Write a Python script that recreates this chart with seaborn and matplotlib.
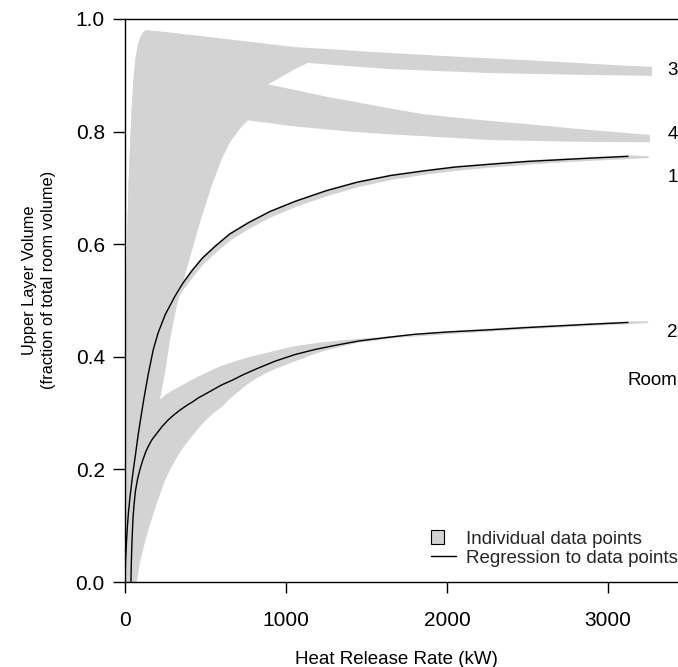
import matplotlib
matplotlib.use("Agg")
import matplotlib.pyplot as plt
import seaborn as sns
import pandas as pd
from matplotlib.patches import Patch, Rectangle
from matplotlib.lines import Line2D
from matplotlib.legend_handler import HandlerPatch

# ---------------- data ----------------
# Regression lines
reg1_x = [0, 3, 8, 14, 21, 30, 41, 52, 65, 80, 100, 120, 145, 175, 205, 250, 311, 360, 416, 480,
          559, 650, 766, 900, 1056, 1250, 1441, 1650, 1851, 2050, 2267, 2500, 2700, 2900, 3124]
reg1_y = [0, 0.035, 0.065, 0.095, 0.122, 0.148, 0.175, 0.2, 0.226, 0.258, 0.295, 0.33, 0.37, 0.412, 0.442,
          0.475, 0.508, 0.531, 0.553, 0.575, 0.596, 0.618, 0.638, 0.658, 0.676, 0.695, 0.71, 0.722, 0.73,
          0.737, 0.742, 0.747, 0.75, 0.753, 0.756]
reg2_x = [37, 39, 42, 46, 50, 57, 65, 78, 93, 110, 130, 150, 168, 200, 230, 265, 300, 340, 380, 420,
          455, 500, 550, 600, 663, 740, 820, 930, 1056, 1180, 1300, 1450, 1646, 1800, 2000, 2267, 2500,
          2700, 2900, 3124]
reg2_y = [0, 0.03, 0.06, 0.09, 0.115, 0.14, 0.162, 0.183, 0.2, 0.216, 0.232, 0.244, 0.253, 0.265, 0.276,
          0.287, 0.296, 0.305, 0.313, 0.32, 0.327, 0.334, 0.342, 0.35, 0.358, 0.369, 0.379, 0.392, 0.404,
          0.413, 0.42, 0.428, 0.435, 0.44, 0.444, 0.448, 0.452, 0.455, 0.458, 0.461]

# Data envelopes (individual data points) per room
room1_x = [0, 21, 52, 100, 145, 205, 250, 311, 360, 416, 480, 559, 650, 766, 900, 1056, 1250, 1441,
           1650, 1851, 2050, 2267, 2500, 2700, 2900, 3124, 3250]
room1_lo = [0, 0.11, 0.19, 0.28, 0.355, 0.428, 0.462, 0.496, 0.52, 0.541, 0.564, 0.585, 0.607, 0.628,
            0.648, 0.667, 0.686, 0.702, 0.715, 0.724, 0.731, 0.737, 0.742, 0.746, 0.749, 0.752, 0.754]
room1_hi = [0, 0.13, 0.21, 0.305, 0.38, 0.45, 0.482, 0.514, 0.536, 0.558, 0.58, 0.601, 0.622, 0.642,
            0.661, 0.679, 0.698, 0.713, 0.725, 0.733, 0.74, 0.745, 0.75, 0.753, 0.756, 0.759, 0.757]

room2_lo_x = [0, 73, 90, 110, 130, 150, 175, 200, 248, 290, 330, 370, 414, 460, 500, 550, 602, 650, 700,
              750, 807, 870, 930, 1000, 1056, 1140, 1230, 1340, 1450, 1700, 2000, 2500, 3124, 3250]
room2_lo = [0, 0, 0.03, 0.055, 0.077, 0.097, 0.12, 0.142, 0.18, 0.205, 0.225, 0.242, 0.258, 0.274, 0.287,
            0.3, 0.311, 0.325, 0.337, 0.349, 0.36, 0.37, 0.378, 0.386, 0.392, 0.401, 0.41, 0.418, 0.425,
            0.434, 0.44, 0.449, 0.458, 0.46]
room2_hi_x = [0, 50, 100, 160, 217, 250, 280, 352, 400, 455, 500, 550, 600, 663, 750, 850, 950, 1056,
              1230, 1450, 1700, 2000, 2500, 3124, 3250]
room2_hi = [0.02, 0.15, 0.25, 0.3, 0.324, 0.332, 0.338, 0.349, 0.357, 0.365, 0.371, 0.378, 0.384, 0.39,
            0.398, 0.405, 0.412, 0.419, 0.426, 0.432, 0.438, 0.446, 0.454, 0.463, 0.463]

room3_hi_x = [0, 5, 10, 17, 24, 31, 41, 52, 65, 81, 95, 110, 125, 141, 250, 400, 550, 700, 880, 1056,
              1300, 1500, 1750, 2000, 2267, 2550, 2800, 3050, 3273]
room3_hi = [0, 0.4, 0.55, 0.653, 0.72, 0.772, 0.838, 0.89, 0.93, 0.955, 0.967, 0.975, 0.979, 0.98,
            0.977, 0.972, 0.967, 0.962, 0.956, 0.95, 0.946, 0.942, 0.938, 0.934, 0.93, 0.926, 0.922,
            0.918, 0.915]
room3_lo_x = [0, 400, 888, 940, 1000, 1056, 1100, 1137, 1400, 1646, 2000, 2267, 2800, 3273]
room3_lo = [0, 0.8, 0.884, 0.892, 0.902, 0.911, 0.917, 0.922, 0.916, 0.911, 0.907, 0.904, 0.901, 0.899]

room4_hi_x = [0, 5, 10, 17, 24, 31, 41, 52, 65, 81, 95, 110, 125, 141, 500, 888, 1056, 1250, 1441,
              1650, 1851, 2050, 2267, 2550, 2800, 3050, 3261]
room4_hi = [0, 0.4, 0.55, 0.653, 0.72, 0.772, 0.838, 0.89, 0.93, 0.955, 0.967, 0.975, 0.979, 0.98,
            0.93, 0.884, 0.874, 0.862, 0.852, 0.841, 0.831, 0.825, 0.819, 0.812, 0.805, 0.799, 0.794]
room4_lo_x = [0, 50, 100, 160, 217, 248, 280, 321, 373, 435, 478, 540, 602, 650, 700, 735, 764, 900,
              1025, 1250, 1441, 1650, 1851, 2267, 2800, 3261]
room4_lo = [0, 0.07, 0.15, 0.24, 0.324, 0.37, 0.43, 0.49, 0.545, 0.608, 0.65, 0.705, 0.752, 0.78,
            0.80, 0.812, 0.82, 0.815, 0.81, 0.804, 0.799, 0.795, 0.792, 0.785, 0.782, 0.781]

room_labels = ["3", "4", "1", "2", "Room"]
room_label_y = [0.908, 0.795, 0.719, 0.443, 0.358]

x_ticks = [0, 1000, 2000, 3000]
y_ticks = [0.0, 0.2, 0.4, 0.6, 0.8, 1.0]

# ---------------- styling ----------------
sns.set_theme(style="ticks")
plt.rcParams["font.family"] = ["Liberation Sans", "DejaVu Sans"]
GRAY = "#d3d3d3"

fig = plt.figure(figsize=(6.78, 6.67), dpi=100)
ax = fig.add_axes([125 / 678, 85 / 667, 1 - 125 / 678, 563 / 667])


def band(xl, yl, xh, yh):
    # polygon: lower edge left->right, upper edge right->left
    px = list(xl) + list(xh)[::-1]
    py = list(yl) + list(yh)[::-1]
    ax.fill(px, py, color=GRAY, lw=0, zorder=1)


band(room3_lo_x, room3_lo, room3_hi_x, room3_hi)
band(room4_lo_x, room4_lo, room4_hi_x, room4_hi)
band(room2_lo_x, room2_lo, room2_hi_x, room2_hi)
ax.fill_between(room1_x, room1_lo, room1_hi, color=GRAY, lw=0, zorder=1)

# regression lines
df1 = pd.DataFrame({"x": reg1_x, "y": reg1_y})
df2 = pd.DataFrame({"x": reg2_x, "y": reg2_y})
sns.lineplot(data=df1, x="x", y="y", ax=ax, color="black", lw=1.0, estimator=None, sort=False, zorder=3)
sns.lineplot(data=df2, x="x", y="y", ax=ax, color="black", lw=1.0, estimator=None, sort=False, zorder=3)

ax.set_xlim(0, 553 / 0.161)
ax.set_ylim(0, 1.0)
ax.set_xticks(x_ticks)
ax.set_xticklabels([str(v) for v in x_ticks])
ax.set_yticks(y_ticks)
ax.set_yticklabels([f"{v:.1f}" for v in y_ticks])

for s in ["left", "top", "bottom"]:
    ax.spines[s].set_visible(True)
    ax.spines[s].set_linewidth(1.0)
    ax.spines[s].set_color("black")
ax.spines["right"].set_visible(False)
ax.tick_params(axis="both", direction="out", length=8.5, width=1.0, colors="black",
               labelsize=15, pad=6)
ax.tick_params(axis="x", length=8, pad=13)

ax.set_xlabel("Heat Release Rate (kW)", fontsize=13.5, color="black")
ax.set_ylabel("Upper Layer Volume\n(fraction of total room volume)", fontsize=11.8,
              color="black", linespacing=1.3)
ax.xaxis.set_label_coords(0.49, -0.122)
ax.yaxis.set_label_coords(-0.125, 0.536)

for lab, yv in zip(room_labels, room_label_y):
    ax.text(3432, yv, lab, ha="right", va="center", fontsize=13.5, color="black", clip_on=False)


# legend
def square_patch(legend, orig_handle, xdescent, ydescent, width, height, fontsize):
    side = 10.0
    return Rectangle((-xdescent, -ydescent + (height - side) / 2), side, side)


handles = [Patch(facecolor=GRAY, edgecolor="black", linewidth=0.8),
           Line2D([], [], color="black", lw=1.0)]
leg = ax.legend(handles, ["Individual data points", "Regression to data points"],
                loc="lower right", bbox_to_anchor=(1.0, 0.027), frameon=False,
                fontsize=13.5, handlelength=1.35, handletextpad=0.55, labelspacing=0.1,
                borderpad=0, borderaxespad=0,
                handler_map={Patch: HandlerPatch(patch_func=square_patch)})
leg.set_bbox_to_anchor((1.0, 0.027), transform=ax.transAxes)

fig.savefig("out.png", dpi=100)
